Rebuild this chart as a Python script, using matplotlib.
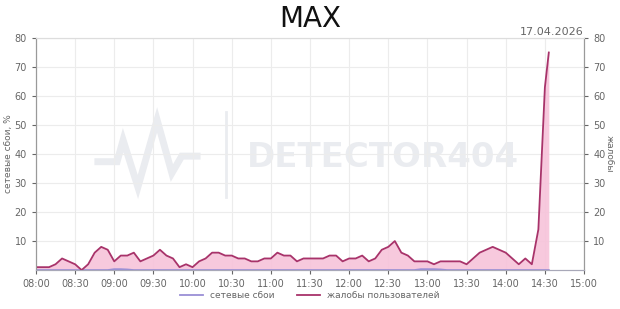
import pandas as pd
import matplotlib
matplotlib.use("Agg")
from matplotlib import pyplot as plt
import matplotlib.dates as mdates

# Данные
times = [
    "08:00", "08:05", "08:10", "08:15", "08:20", "08:25", "08:30", "08:35", "08:40", "08:45",
    "08:50", "08:55", "09:00", "09:05", "09:10", "09:15", "09:20", "09:25", "09:30", "09:35",
    "09:40", "09:45", "09:50", "09:55", "10:00", "10:05", "10:10", "10:15", "10:20", "10:25",
    "10:30", "10:35", "10:40", "10:45", "10:50", "10:55", "11:00", "11:05", "11:10", "11:15",
    "11:20", "11:25", "11:30", "11:35", "11:40", "11:45", "11:50", "11:55", "12:00", "12:05",
    "12:10", "12:15", "12:20", "12:25", "12:30", "12:35", "12:40", "12:45", "12:50", "12:55",
    "13:00", "13:05", "13:10", "13:15", "13:20", "13:25", "13:30", "13:35", "13:40", "13:45",
    "13:50", "13:55", "14:00", "14:05", "14:10", "14:15", "14:20", "14:25", "14:30", "14:33",
]
complaints = [
    1, 1, 1, 2, 4, 3, 2, 0, 2, 6,
    8, 7, 3, 5, 5, 6, 3, 4, 5, 7,
    5, 4, 1, 2, 1, 3, 4, 6, 6, 5,
    5, 4, 4, 3, 3, 4, 4, 6, 5, 5,
    3, 4, 4, 4, 4, 5, 5, 3, 4, 4,
    5, 3, 4, 7, 8, 10, 6, 5, 3, 3,
    3, 2, 3, 3, 3, 3, 2, 4, 6, 7,
    8, 7, 6, 4, 2, 4, 2, 14, 63, 75,
]
network = [
    0, 0, 0, 0, 0, 0, 0, 0, 0, 0,
    0, 0, 0.3, 0.3, 0.2, 0, 0, 0, 0, 0,
    0, 0, 0, 0, 0, 0, 0, 0, 0, 0,
    0, 0, 0, 0, 0, 0, 0, 0, 0, 0,
    0, 0, 0, 0, 0, 0, 0, 0, 0, 0,
    0, 0, 0, 0, 0, 0, 0, 0, 0, 0.3,
    0.3, 0.3, 0.2, 0, 0, 0, 0, 0, 0, 0,
    0, 0, 0, 0, 0, 0, 0, 0, 0, 0,
]
x = pd.to_datetime(["2026-04-17 " + t for t in times])

grey = "#666666"
wm = "#eaecf0"
fig = plt.figure(figsize=(6.2, 3.09), dpi=100)
ax = fig.add_axes([0.058, 0.126, 0.884, 0.751])
ax2 = ax.twinx()

# Водяной знак
ax.plot([0.113, 0.148, 0.159, 0.186, 0.221, 0.248, 0.266, 0.294],
        [0.467, 0.467, 0.56, 0.358, 0.647, 0.418, 0.491, 0.491],
        transform=ax.transAxes, color=wm, lw=5, zorder=0,
        solid_joinstyle="miter")
ax.plot([0.347, 0.347], [0.315, 0.681], transform=ax.transAxes, color=wm, lw=2, zorder=0)
ax.text(0.633, 0.483, "DETECTOR404", transform=ax.transAxes, ha="center", va="center",
        fontsize=24.5, fontweight="bold", color=wm, zorder=0)

ax.fill_between(x, complaints, 0, color="#f7c3da", alpha=0.9, lw=0, zorder=1)
ax.plot(x, network, color="#9a8fd6", lw=1.3, zorder=3, label="сетевые сбои")
ax.plot(x, complaints, color="#a8336a", lw=1.3, zorder=4, label="жалобы пользователей")

start = pd.Timestamp("2026-04-17 08:00")
end = pd.Timestamp("2026-04-17 15:00")
for a in (ax, ax2):
    a.set_ylim(0, 80)
    a.set_yticks([10, 20, 30, 40, 50, 60, 70, 80])
    a.tick_params(axis="both", labelsize=7, colors=grey, length=3)
ax.set_xlim(start, end)
ax.xaxis.set_major_locator(mdates.MinuteLocator(byminute=[0, 30]))
ax.xaxis.set_major_formatter(mdates.DateFormatter("%H:%M"))
ax.grid(True, color="#ececec", lw=0.8)
ax.set_axisbelow(True)

for a in (ax, ax2):
    a.spines["left"].set_color("#9a9a9a")
    a.spines["right"].set_color("#9a9a9a")
    a.spines["top"].set_color("#dddddd")
    a.spines["bottom"].set_color("#a8a8b8")

ax.set_ylabel("сетевые сбои, %", fontsize=6.5, color=grey, labelpad=1)
ax2.set_ylabel("жалобы", fontsize=6.5, color=grey, rotation=270, labelpad=6)

fig.text(0.5, 0.94, "MAX", ha="center", va="center", fontsize=20, color="#111111")
fig.text(0.942, 0.898, "17.04.2026", ha="right", va="center", fontsize=8, color=grey)

ax.legend(loc="upper center", bbox_to_anchor=(0.5, -0.055), ncol=2, frameon=False,
          fontsize=6.5, labelcolor=grey, handlelength=2.5, columnspacing=2.5)

fig.savefig("out.png", dpi=100)
